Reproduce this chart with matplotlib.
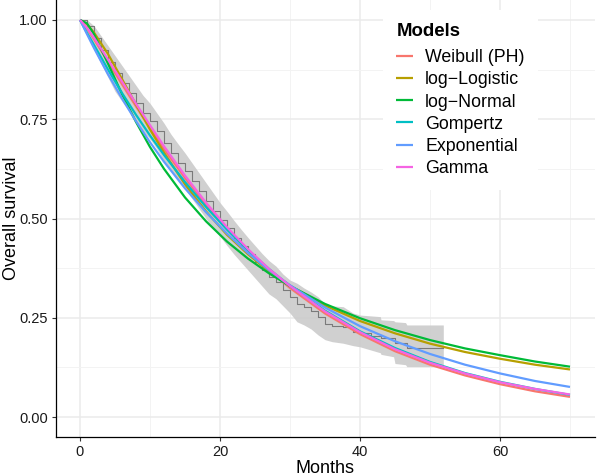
import matplotlib
matplotlib.use("Agg")
import matplotlib.pyplot as plt
from matplotlib.ticker import FixedLocator

plt.rcParams['font.family'] = ['Liberation Sans', 'DejaVu Sans']

# ---------------- data ----------------
times = [0, 1, 2, 4, 6, 8, 10, 12, 15, 18, 21, 24, 27, 30, 35, 40, 45, 50, 55, 60, 65, 70]

weibull = [1, 0.978, 0.951, 0.895, 0.838, 0.782, 0.728, 0.675, 0.602, 0.535, 0.474, 0.419,
           0.369, 0.325, 0.261, 0.209, 0.166, 0.132, 0.105, 0.083, 0.065, 0.051]
loglogistic = [1, 0.989, 0.968, 0.914, 0.851, 0.787, 0.724, 0.666, 0.586, 0.518, 0.459, 0.410,
               0.367, 0.331, 0.281, 0.242, 0.211, 0.185, 0.164, 0.147, 0.132, 0.120]
lognormal = [1, 0.991, 0.964, 0.890, 0.813, 0.743, 0.680, 0.625, 0.553, 0.493, 0.442, 0.399,
             0.362, 0.330, 0.285, 0.249, 0.219, 0.194, 0.173, 0.156, 0.140, 0.127]
gompertz = [1, 0.967, 0.937, 0.875, 0.816, 0.761, 0.709, 0.660, 0.592, 0.529, 0.472, 0.420,
            0.373, 0.330, 0.268, 0.216, 0.174, 0.139, 0.111, 0.089, 0.071, 0.056]
exponential = [1, 0.964, 0.929, 0.863, 0.802, 0.745, 0.692, 0.643, 0.576, 0.516, 0.462, 0.413,
               0.370, 0.332, 0.276, 0.229, 0.191, 0.159, 0.132, 0.110, 0.091, 0.076]
gamma = [1, 0.980, 0.955, 0.900, 0.845, 0.789, 0.735, 0.682, 0.608, 0.540, 0.478, 0.423,
         0.373, 0.330, 0.266, 0.214, 0.171, 0.137, 0.110, 0.088, 0.071, 0.057]

model_names = ["Weibull (PH)", "log\u2212Logistic", "log\u2212Normal", "Gompertz", "Exponential", "Gamma"]
model_values = [weibull, loglogistic, lognormal, gompertz, exponential, gamma]
model_colors = ["#F8766D", "#B79F00", "#00BA38", "#00BFC4", "#619CFF", "#F564E3"]

# Kaplan-Meier estimate (step curve)
km_times = [0, 1, 2, 3, 4, 5, 6, 7, 8, 9, 10, 11, 12, 13, 14, 15, 16, 17, 18, 19, 20, 21, 22,
            23, 24, 25, 26, 27, 28, 29, 30, 31, 32, 33, 34, 35, 36, 37.6, 39, 40, 41.5, 43,
            45, 46.7, 51.9]
km_surv = [1, 0.985, 0.955, 0.925, 0.895, 0.865, 0.84, 0.815, 0.79, 0.765, 0.745, 0.72, 0.69,
           0.665, 0.64, 0.62, 0.595, 0.57, 0.545, 0.52, 0.497, 0.475, 0.452, 0.43, 0.41, 0.39,
           0.37, 0.352, 0.34, 0.32, 0.303, 0.285, 0.277, 0.268, 0.253, 0.235, 0.23, 0.226,
           0.215, 0.211, 0.205, 0.198, 0.186, 0.174, 0.174]

# confidence band outline
ci_times = [0, 1, 2, 3, 4, 5, 6, 7, 8, 9, 10, 11, 12, 13, 14, 15, 16, 17, 18, 19, 20, 21, 22,
            23, 24, 25, 26, 27, 28, 29, 30, 31, 32, 33, 34, 35, 36, 37.6, 39, 40, 42.9, 43,
            44.8, 45, 46.5, 46.7, 51.9]
ci_upper = [1, 1.0, 0.985, 0.96, 0.935, 0.91, 0.885, 0.86, 0.835, 0.81, 0.79, 0.765, 0.74,
            0.712, 0.688, 0.665, 0.64, 0.615, 0.59, 0.565, 0.54, 0.518, 0.495, 0.473, 0.452,
            0.432, 0.412, 0.394, 0.38, 0.36, 0.345, 0.337, 0.325, 0.315, 0.303, 0.285, 0.28,
            0.278, 0.262, 0.257, 0.253, 0.245, 0.243, 0.24, 0.238, 0.232, 0.232]
ci_lower = [1, 0.965, 0.925, 0.89, 0.855, 0.82, 0.795, 0.77, 0.745, 0.72, 0.7, 0.675, 0.645,
            0.62, 0.595, 0.575, 0.55, 0.525, 0.5, 0.475, 0.455, 0.432, 0.41, 0.39, 0.37, 0.35,
            0.33, 0.31, 0.298, 0.28, 0.262, 0.24, 0.232, 0.222, 0.207, 0.195, 0.19, 0.186,
            0.18, 0.177, 0.162, 0.158, 0.152, 0.135, 0.132, 0.127, 0.127]

x_ticks = [0, 20, 40, 60]
y_ticks = [0.00, 0.25, 0.50, 0.75, 1.00]
y_tick_labels = ["0.00", "0.25", "0.50", "0.75", "1.00"]

# ---------------- figure ----------------
fig = plt.figure(figsize=(5.97, 4.76), dpi=100)
ax = fig.add_axes([55.5 / 597, 1 - 437 / 476, (594.5 - 55.5) / 597, 437 / 476])
ax.set_facecolor("white")

ax.fill_between(ci_times, ci_lower, ci_upper, color="#cbcbcb", alpha=0.9,
                linewidth=0, zorder=1)
ax.step(km_times, km_surv, where="post", color="#7a7a7a", linewidth=0.8, zorder=2)

handles = []
for name, vals, col in zip(model_names, model_values, model_colors):
    h, = ax.plot(times, vals, color=col, linewidth=1.6, label=name, zorder=3,
                 solid_capstyle="butt")
    handles.append(h)

ax.set_xlim(-3.5, 73.5)
ax.set_ylim(-0.05, 1.05)
ax.xaxis.set_major_locator(FixedLocator(x_ticks))
ax.yaxis.set_major_locator(FixedLocator(y_ticks))
ax.xaxis.set_minor_locator(FixedLocator([10, 30, 50, 70]))
ax.yaxis.set_minor_locator(FixedLocator([0.125, 0.375, 0.625, 0.875]))
ax.set_yticklabels(y_tick_labels)
ax.grid(which="major", color="#ebebeb", linewidth=1.1, zorder=0)
ax.grid(which="minor", color="#f3f3f3", linewidth=0.7, zorder=0)
ax.set_axisbelow(True)

for s in ["top", "right"]:
    ax.spines[s].set_visible(False)
for s in ["left", "bottom"]:
    ax.spines[s].set_color("black")
    ax.spines[s].set_linewidth(0.9)
ax.tick_params(which="major", length=3, width=0.8, color="#333333", labelsize=10.5,
               labelcolor="#1a1a1a", pad=2.5)
ax.tick_params(which="minor", length=0)

ax.set_xlabel("Months", fontsize=13, labelpad=1.2)
ax.set_ylabel("Overall survival", fontsize=13)
ax.yaxis.set_label_coords((20 - 55.5) / 539, 0.5)

leg_fs = 12.8
leg = ax.legend(handles=handles, title="Models", loc="upper left",
                bbox_to_anchor=((383 - 55.5) / 539, 1 - 10 / 437), frameon=True,
                fontsize=leg_fs, title_fontsize=13.4, handlelength=0.95, handletextpad=0.67,
                labelspacing=0.29, borderpad=0.75, borderaxespad=0, alignment="left")
leg._legend_box.sep = 6.4
leg.get_frame().set_facecolor("white")
leg.get_frame().set_edgecolor("none")
leg.get_frame().set_alpha(1)
leg.get_title().set_fontweight("bold")

fig.savefig("out.png", dpi=100)
